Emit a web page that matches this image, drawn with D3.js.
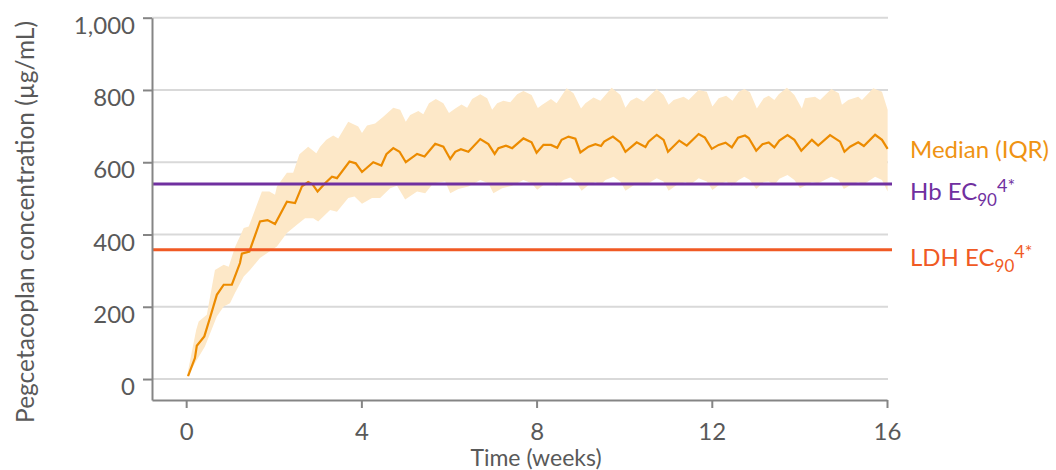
<!DOCTYPE html>
<html>
<head>
<meta charset="utf-8">
<script src="https://cdn.jsdelivr.net/npm/d3@7/dist/d3.min.js"></script>
<style>
    body { margin: 0; background: #ffffff; }
    svg { display: block; font-family: Lato, "Open Sans", "Liberation Sans", sans-serif; }
</style>
</head>
<body>
<div id="chart"></div>
<script>

// time is in days, the axis shows weeks
let medianDays = [0.3, 1.4, 1.7, 2.9, 3.8, 4.9, 6.0, 7.3, 8.6, 8.9,
    10.1, 11.8, 13.0, 14.2, 16.1, 17.4, 18.5, 19.5, 20.2, 21.0,
    22.2, 23.3, 24.1, 26.1, 27.1, 28.1, 29.9, 31.2, 32.0, 33.1,
    34.1, 35.1, 36.9, 38.1, 39.8, 41.1, 42.2, 43.0, 43.9, 45.1,
    47.0, 48.3, 49.3, 49.9, 51.1, 52.1, 53.9, 55.2, 56.0, 57.1,
    58.3, 59.3, 60.0, 61.1, 62.2, 63.0, 64.3, 65.4, 66.3, 66.8,
    68.2, 69.4, 70.2, 72.0, 73.4, 73.9, 75.2, 76.3, 77.0, 78.8,
    80.0, 81.9, 82.9, 84.0, 85.1, 86.2, 87.2, 88.2, 89.3, 89.9,
    91.1, 92.1, 93.1, 94.0, 94.8, 96.1, 97.2, 98.3, 100.0, 101.0,
    102.9, 104.5, 105.2, 106.1, 107.4, 108.3, 110.1, 111.2, 112.1];
let medianValues = [8, 58, 92, 118, 169, 233, 261, 261, 321, 347,
    353, 436, 440, 429, 491, 487, 533, 545, 539, 519,
    542, 560, 556, 602, 597, 573, 600, 591, 622, 639,
    629, 600, 623, 616, 651, 643, 609, 629, 636, 629,
    664, 650, 623, 639, 646, 639, 666, 655, 626, 648,
    648, 640, 662, 671, 665, 627, 643, 650, 645, 657,
    671, 655, 629, 655, 642, 657, 676, 662, 629, 660,
    646, 678, 668, 637, 648, 654, 641, 668, 674, 667,
    632, 650, 655, 641, 660, 675, 662, 632, 662, 646,
    675, 657, 629, 643, 655, 645, 676, 662, 637];

// upper quartile (Q3) edge of the band
let upperDays = [0.1, 1.6, 2.0, 3.3, 4.6, 6.0, 6.8, 7.8, 9.2, 10.0,
    12.1, 13.3, 14.2, 14.5, 16.1, 17.1, 18.1, 19.5, 20.8, 21.4,
    22.4, 23.5, 24.3, 25.9, 27.5, 28.1, 28.9, 30.2, 31.5, 33.1,
    34.2, 35.1, 35.8, 37.1, 37.9, 38.8, 39.9, 41.1, 42.0, 43.0,
    44.0, 44.9, 45.7, 47.0, 48.1, 48.9, 49.7, 50.7, 51.8, 52.9,
    53.9, 55.2, 56.2, 56.9, 58.3, 59.2, 60.8, 61.9, 63.1, 63.8,
    65.1, 66.2, 68.0, 69.4, 70.2, 71.0, 72.0, 73.1, 75.2, 76.3,
    77.1, 77.9, 79.5, 80.3, 81.9, 83.2, 84.1, 85.1, 86.3, 87.3,
    88.3, 89.2, 90.1, 91.2, 92.3, 93.1, 94.0, 94.7, 96.0, 97.2,
    98.4, 98.9, 100.5, 101.3, 103.1, 104.3, 104.8, 105.8, 107.4, 108.0,
    109.8, 111.2, 112.1];
let upperValues = [5, 136, 159, 178, 302, 316, 311, 365, 418, 422,
    519, 519, 510, 533, 571, 571, 622, 643, 625, 643,
    662, 674, 666, 712, 699, 681, 702, 707, 726, 751,
    745, 712, 731, 742, 733, 763, 775, 763, 736, 749,
    760, 751, 775, 788, 777, 745, 763, 770, 766, 788,
    797, 786, 750, 759, 775, 763, 805, 791, 749, 763,
    779, 770, 806, 786, 751, 770, 779, 768, 803, 786,
    759, 772, 781, 772, 800, 795, 754, 777, 784, 770,
    795, 803, 794, 749, 777, 784, 772, 788, 806, 786,
    749, 777, 781, 772, 803, 791, 759, 772, 781, 772,
    805, 795, 745];

// lower quartile (Q1) edge of the band
let lowerDays = [0.0, 1.7, 3.0, 4.9, 6.0, 7.0, 7.8, 9.2, 10.2, 11.8,
    14.5, 16.1, 17.7, 19.0, 20.3, 21.1, 23.0, 24.1, 25.9, 26.9,
    28.1, 29.7, 31.0, 32.6, 33.7, 35.0, 36.9, 38.2, 39.5, 41.4,
    42.2, 43.5, 45.1, 47.0, 48.3, 49.1, 50.5, 52.1, 53.9, 55.2,
    56.1, 57.1, 58.2, 59.2, 60.3, 61.4, 62.2, 63.2, 64.3, 65.4,
    66.2, 67.0, 68.3, 69.4, 70.2, 72.0, 73.4, 75.2, 76.3, 77.1,
    78.4, 79.8, 80.5, 81.9, 83.2, 84.1, 85.3, 86.3, 87.2, 88.3,
    89.2, 90.1, 91.1, 92.3, 93.1, 94.0, 94.8, 96.1, 97.2, 98.1,
    100.0, 101.0, 103.1, 104.3, 105.1, 106.2, 107.4, 108.3, 110.1, 111.2,
    112.1];
let lowerValues = [0, 53, 90, 173, 201, 210, 238, 284, 302, 335,
    367, 404, 427, 445, 445, 436, 468, 463, 501, 505,
    485, 501, 501, 528, 535, 497, 519, 514, 542, 547,
    514, 526, 533, 551, 542, 514, 528, 535, 551, 542,
    524, 537, 542, 535, 551, 558, 547, 521, 537, 545,
    537, 551, 560, 547, 521, 542, 537, 556, 547, 521,
    537, 545, 537, 556, 547, 523, 539, 547, 535, 551,
    560, 551, 526, 545, 547, 537, 554, 565, 551, 528,
    545, 542, 560, 551, 526, 537, 545, 539, 560, 551,
    519];

let refNames = ['Hb', 'LDH'];
let refValues = [540, 358];

let xTicks = [0, 4, 8, 12, 16];
let yTicks = [0, 200, 400, 600, 800, 1000];

let ORANGE_LINE = '#EC8B00';
let ORANGE_TEXT = '#EF9313';
let BAND = '#FDE8C8';
let refColors = ['#7030A0', '#F05A24'];
let TEXT = '#595959';
let AXIS = '#858585';
let GRID = '#D9D9D9';

let svg = d3.select('#chart').append('svg')
    .attr('width', 1056)
    .attr('height', 470);

let xScale = d3.scaleLinear().domain([-0.78, 16]).range([152, 887]);
let yScale = d3.scaleLinear().domain([-58, 1000]).range([400, 17.7]);

// gridlines
svg.append('g')
    .selectAll('line')
    .data(yTicks)
    .enter()
    .append('line')
    .attr('x1', 152)
    .attr('x2', 888)
    .attr('y1', (d) => yScale(d))
    .attr('y2', (d) => yScale(d))
    .attr('stroke', GRID)
    .attr('stroke-width', 2);

// IQR band: upper edge forward, lower edge back
let upperPts = upperDays.map((d, i) => [d, upperValues[i]]);
let lowerPts = lowerDays.map((d, i) => [d, lowerValues[i]]).reverse();

let edge = d3.line()
    .x((p) => xScale(p[0] / 7))
    .y((p) => yScale(p[1]));

svg.append('path')
    .attr('d', edge(upperPts.concat(lowerPts)) + 'Z')
    .attr('fill', BAND)
    .attr('stroke', 'none');

svg.append('path')
    .datum(medianDays.map((d, i) => [d, medianValues[i]]))
    .attr('d', edge)
    .attr('fill', 'none')
    .attr('stroke', ORANGE_LINE)
    .attr('stroke-width', 2.2)
    .attr('stroke-linejoin', 'miter');

// EC90 reference lines
svg.append('g')
    .selectAll('line')
    .data(refValues)
    .enter()
    .append('line')
    .attr('x1', 152)
    .attr('x2', 892)
    .attr('y1', (d) => yScale(d))
    .attr('y2', (d) => yScale(d))
    .attr('stroke', (d, i) => refColors[i])
    .attr('stroke-width', 3);

// axes
let yAxis = svg.append('g')
    .attr('transform', 'translate(152,0)')
    .call(d3.axisLeft(yScale)
        .tickValues(yTicks)
        .tickSize(9)
        .tickSizeOuter(0)
        .tickPadding(8)
        .tickFormat(d3.format(',')));

let xAxis = svg.append('g')
    .attr('transform', 'translate(0,400)')
    .call(d3.axisBottom(xScale)
        .tickValues(xTicks)
        .tickSize(8)
        .tickSizeOuter(0)
        .tickPadding(15));

[yAxis, xAxis].forEach((ax) => {
    ax.select('.domain').attr('stroke', AXIS).attr('stroke-width', 2);
    ax.selectAll('.tick line').attr('stroke', AXIS).attr('stroke-width', 2);
    ax.selectAll('.tick text')
        .attr('fill', TEXT)
        .style('font-size', '24px')
        .style('font-family', 'Lato, sans-serif');
});
yAxis.selectAll('.tick text').attr('dy', '0.65em');

// axis titles
svg.append('text')
    .attr('x', 536)
    .attr('y', 466)
    .attr('text-anchor', 'middle')
    .attr('fill', TEXT)
    .style('font-size', '23px')
    .text('Time (weeks)');

svg.append('text')
    .attr('transform', 'translate(34,222) rotate(-90)')
    .attr('text-anchor', 'middle')
    .attr('fill', TEXT)
    .style('font-size', '24.5px')
    .text('Pegcetacoplan concentration (µg/mL)');

// labels at the right
svg.append('text')
    .attr('x', 910)
    .attr('y', 158)
    .attr('fill', ORANGE_TEXT)
    .style('font-size', '24px')
    .text('Median (IQR)');

let refBaselines = [200, 266];
refNames.forEach((name, i) => {
    let t = svg.append('text')
        .attr('x', 910)
        .attr('y', refBaselines[i])
        .attr('fill', refColors[i])
        .style('font-size', '24px');
    t.append('tspan').text(name + ' EC');
    t.append('tspan').attr('dy', 6).style('font-size', '17px').text('90');
    t.append('tspan').attr('dy', -14).style('font-size', '18px').text('4*');
});

</script>
</body>
</html>
